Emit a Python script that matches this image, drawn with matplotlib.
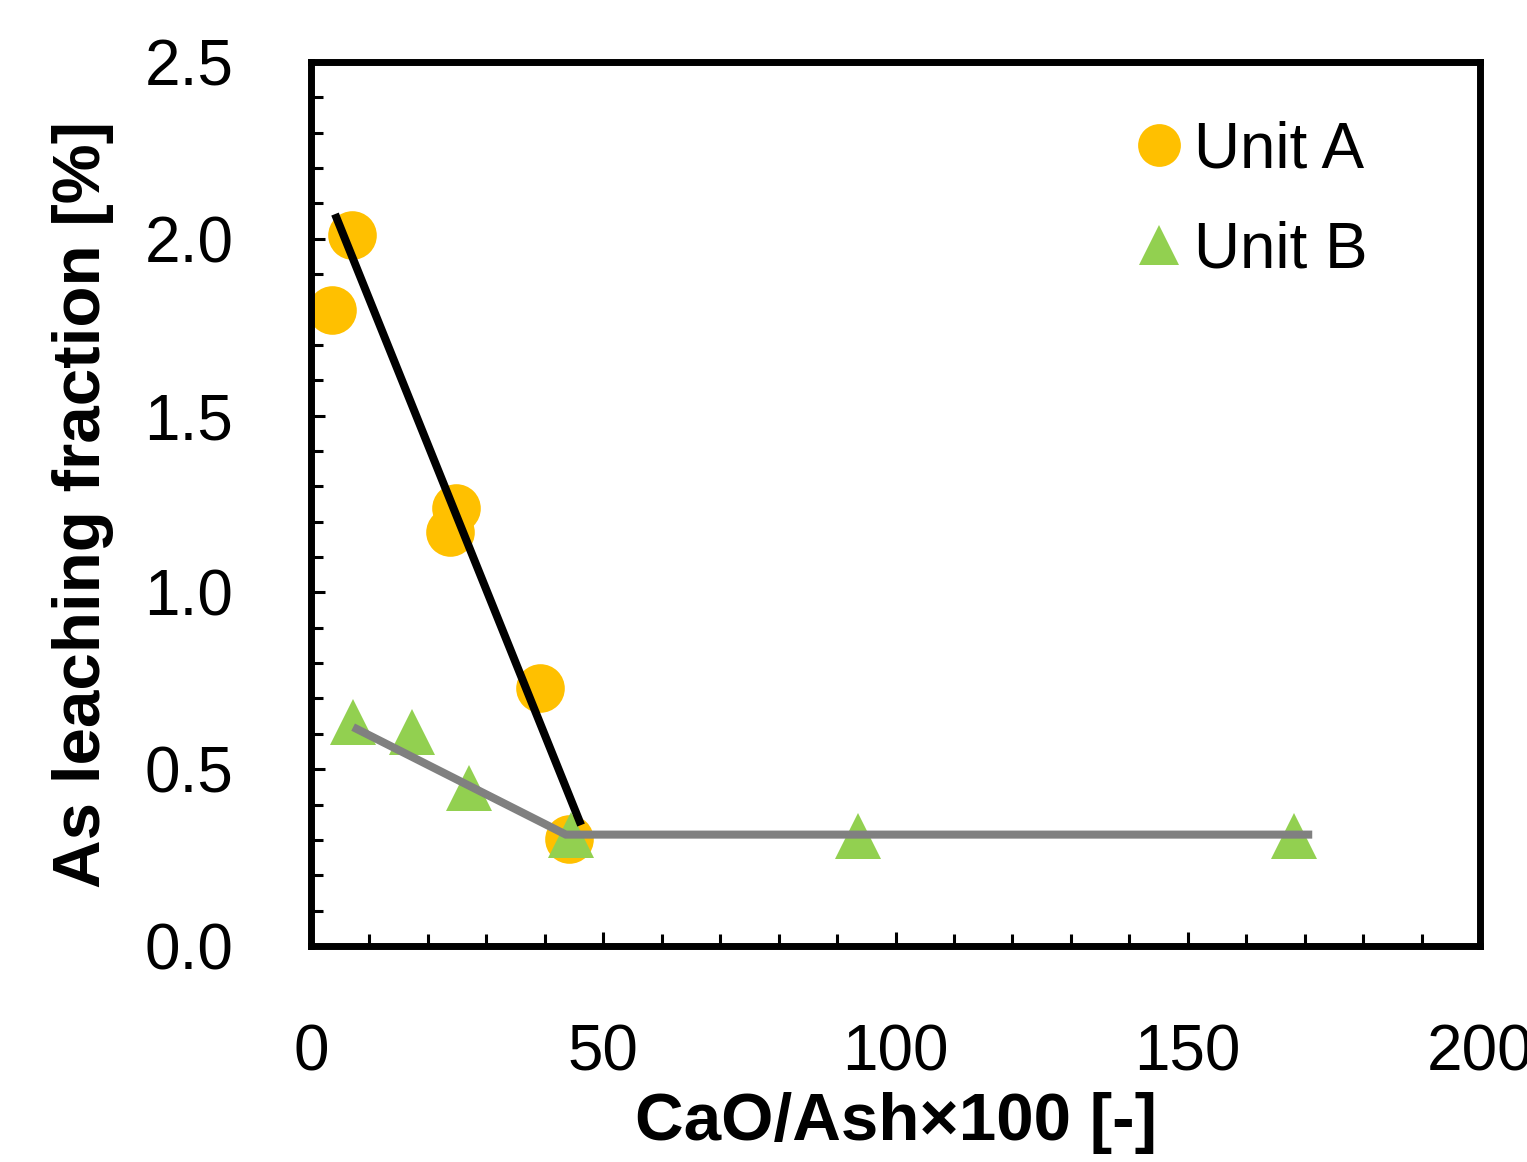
import numpy as np
import matplotlib
matplotlib.use('Agg')
import matplotlib.pyplot as plt
from matplotlib.ticker import MultipleLocator

plt.rcParams['font.family'] = ['Liberation Sans', 'DejaVu Sans']

# data
unit_a_x = [3.6, 7.0, 24.8, 23.8, 39.1, 44.1]
unit_a_y = [1.80, 2.01, 1.24, 1.17, 0.73, 0.303]

unit_b_x = [7.2, 17.3, 27.0, 44.4, 93.5, 168.2]
unit_b_y = [0.634, 0.605, 0.447, 0.314, 0.311, 0.311]

# fitted lines
fit_a_x = [4.1, 46.2]
fit_a_y = [2.07, 0.342]
fit_b_x = [7.2, 43.6, 171.3]
fit_b_y = [0.619, 0.315, 0.315]

fig = plt.figure(figsize=(15.27, 11.62), dpi=100)
ax = fig.add_axes([0.2037, 0.1859, 0.7655, 0.7607])

ax.plot(unit_a_x, unit_a_y, 'o', color='#FFC000', markersize=35,
        markeredgewidth=0, label='Unit A', zorder=2)
ax.plot(unit_b_x, unit_b_y, '^', color='#92D050', markersize=33,
        markeredgewidth=0, label='Unit B', zorder=3)
ax.plot(fit_a_x, fit_a_y, '-', color='black', linewidth=5.8,
        solid_capstyle='butt', zorder=4)
ax.plot(fit_b_x, fit_b_y, '-', color='#808080', linewidth=5.8,
        solid_capstyle='butt', solid_joinstyle='miter', zorder=4)

ax.set_xlim(0, 200)
ax.set_ylim(0, 2.5)
ax.xaxis.set_major_locator(MultipleLocator(50))
ax.xaxis.set_minor_locator(MultipleLocator(10))
ax.yaxis.set_major_locator(MultipleLocator(0.5))
ax.yaxis.set_minor_locator(MultipleLocator(0.1))
ax.yaxis.set_major_formatter(matplotlib.ticker.FormatStrFormatter('%.1f'))

ax.tick_params(which='both', direction='in', width=2.2, top=False, right=False,
               labelsize=46, pad=56)
ax.tick_params(which='major', length=10)
ax.tick_params(which='minor', length=8.5)

for s in ax.spines.values():
    s.set_linewidth(5)

ax.set_xlabel('CaO/Ash×100 [-]', fontsize=48.5, fontweight='bold', labelpad=6)
ax.set_ylabel('As leaching fraction [%]', fontsize=48.5, fontweight='bold', labelpad=22)

ax.legend(loc='upper right', bbox_to_anchor=(0.926, 0.963), bbox_transform=ax.transAxes,
          frameon=False, fontsize=46, markerscale=0.88, handlelength=0.6,
          handletextpad=0.25, labelspacing=0.63, borderaxespad=0)

fig.savefig('out.png', dpi=100)
